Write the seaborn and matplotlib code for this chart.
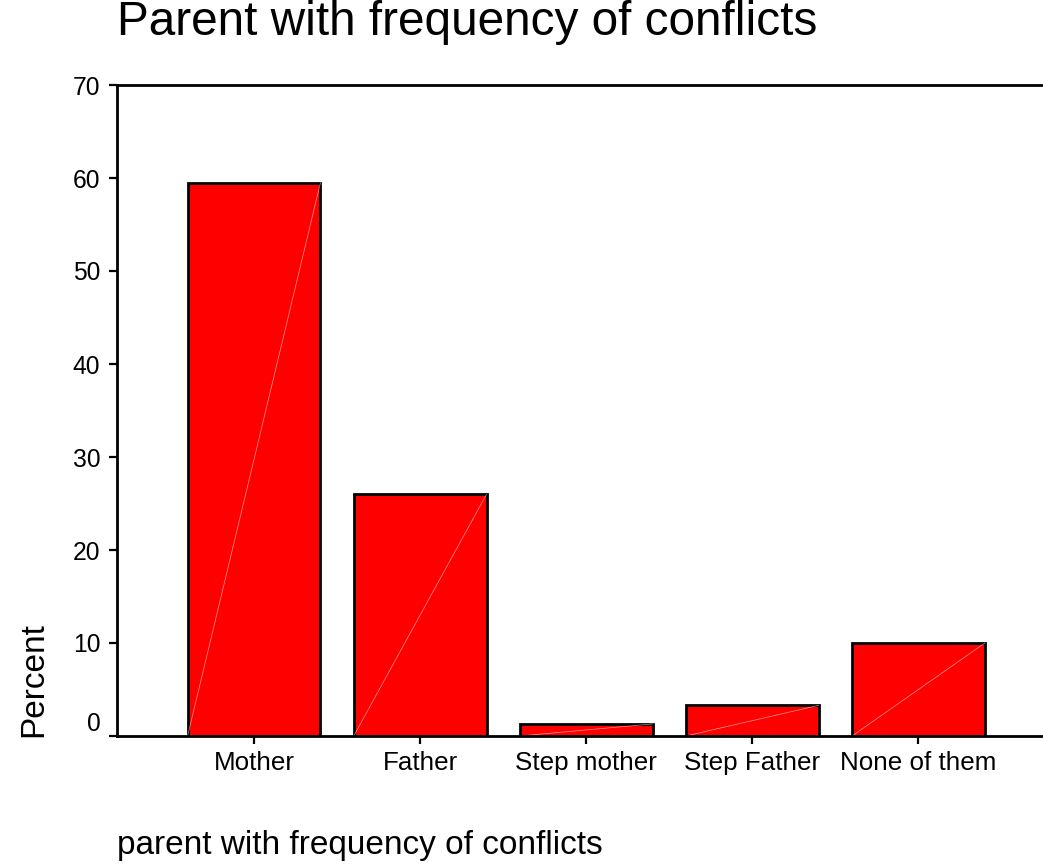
import matplotlib
matplotlib.use("Agg")
import matplotlib.pyplot as plt
import seaborn as sns
import pandas as pd

categories = ["Mother", "Father", "Step mother", "Step Father", "None of them"]
percent = [59.5, 26.0, 1.3, 3.3, 10.0]
y_ticks = [0, 10, 20, 30, 40, 50, 60, 70]

sns.set_style("ticks")
plt.rcParams["font.family"] = ["Liberation Sans", "DejaVu Sans"]
plt.rcParams["text.color"] = "black"
plt.rcParams["axes.labelcolor"] = "black"

df = pd.DataFrame({"parent": categories, "Percent": percent})

fig = plt.figure(figsize=(10.43, 8.64), dpi=100)
ax = fig.add_axes([117 / 1043, 1 - 736 / 864, 1 - 117 / 1043, 651 / 864])

sns.barplot(data=df, x="parent", y="Percent", color="#ff0000", saturation=1,
            edgecolor="black", linewidth=2, width=0.8, ax=ax)

# faint white diagonal inside each bar (SPSS rendering artefact)
for p in ax.patches:
    x0, y0 = p.get_x(), p.get_y()
    ax.plot([x0, x0 + p.get_width()], [y0, y0 + p.get_height()],
            color="white", lw=0.5, alpha=0.6, zorder=p.get_zorder() + 0.1)

ax.set_xlim(-0.825, 4.75)
ax.set_ylim(0, 70)
ax.set_yticks(y_ticks)

for side in ["left", "bottom", "top"]:
    ax.spines[side].set_color("black")
    ax.spines[side].set_linewidth(2)
ax.spines["right"].set_visible(False)

ax.tick_params(axis="both", direction="out", length=6, width=1.6,
               colors="black")
ax.tick_params(axis="y", pad=6, labelsize=17.7)
ax.tick_params(axis="x", pad=5, labelsize=18.7)
ax.tick_params(top=False, right=False)

fig.canvas.draw()
ax.get_yticklabels()[0].set_va("bottom")

ax.set_title("Parent with frequency of conflicts", loc="left", fontsize=34.4,
             x=0.0, y=(736 - 43) / 651, va="baseline", color="black")

ax.set_xlabel("parent with frequency of conflicts", fontsize=24)
ax.xaxis.label.set_ha("left")
ax.xaxis.label.set_va("baseline")
ax.xaxis.set_label_coords(0.0, (736 - 854) / 651)

ax.set_ylabel("Percent", fontsize=24)
ax.yaxis.label.set_va("baseline")
ax.yaxis.set_label_coords((42 - 117) / 926, (736 - 680) / 651)

fig.savefig("out.png", dpi=100)
